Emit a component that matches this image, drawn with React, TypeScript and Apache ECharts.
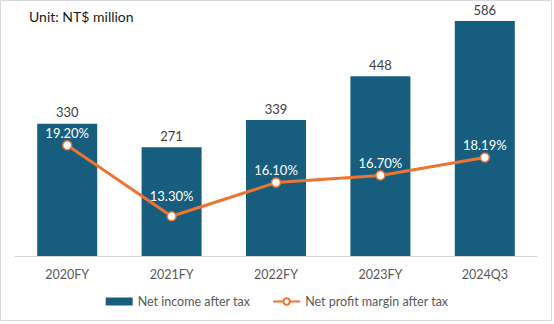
import React, { useEffect, useRef } from "react";
import * as echarts from "echarts";

const categories = ["2020FY", "2021FY", "2022FY", "2023FY", "2024Q3"];
const netIncome = [330, 271, 339, 448, 586];
const margin = [19.2, 13.3, 16.1, 16.7, 18.19];
const marginLabels = ["19.20%", "13.30%", "16.10%", "16.70%", "18.19%"];

const FONT = "Lato, 'Open Sans', sans-serif";

export default function App() {
  const ref = useRef<HTMLDivElement>(null);
  useEffect(() => {
    document.body.style.margin = "0";
    const chart = echarts.init(ref.current!, undefined, { renderer: "svg" });
    const marginData = margin.map((v, i) =>
      i === 1 ? { value: v, label: { distance: 9 } } : { value: v }
    );
    chart.setOption({
      animation: false,
      backgroundColor: "#ffffff",
      textStyle: { fontFamily: FONT },
      graphic: [
        {
          type: "rect",
          shape: { x: 0.5, y: 0.5, width: 551, height: 320 },
          style: { fill: "none", stroke: "#d9d9d9", lineWidth: 1 },
          silent: true,
        },
        {
          type: "text",
          left: 29,
          top: 9,
          style: {
            text: "Unit: NT$ million",
            fontSize: 14,
            fontFamily: FONT,
            fill: "#1a1a1a",
          },
        },
      ],
      grid: { left: 15, right: 17, top: 15.4, bottom: 68 },
      legend: {
        bottom: 11,
        left: "center",
        itemGap: 22,
        itemWidth: 27,
        itemHeight: 8,
        textStyle: { color: "#595959", fontSize: 12.5, fontFamily: FONT },
        data: [
          { name: "Net income after tax", icon: "rect" },
          { name: "Net profit margin after tax" },
        ],
      },
      xAxis: {
        type: "category",
        data: categories,
        axisLine: { lineStyle: { color: "#d9d9d9", width: 1 } },
        axisTick: { show: false },
        axisLabel: { color: "#595959", fontSize: 12.5, margin: 12, fontFamily: FONT },
      },
      yAxis: [
        { type: "value", min: 0, max: 600, show: false, splitLine: { show: false } },
        { type: "value", min: 10, max: 30, show: false, splitLine: { show: false } },
      ],
      series: [
        {
          name: "Net income after tax",
          type: "bar",
          data: netIncome,
          barWidth: 60,
          itemStyle: { color: "#175e7e" },
          label: {
            show: true,
            position: "top",
            distance: 5,
            color: "#404040",
            fontSize: 13,
            fontFamily: FONT,
          },
        },
        {
          name: "Net profit margin after tax",
          type: "line",
          yAxisIndex: 1,
          data: marginData,
          symbol: "circle",
          symbolSize: 9,
          lineStyle: { color: "#ed7431", width: 3 },
          itemStyle: { color: "#ffffff", borderColor: "#ed7431", borderWidth: 1.5 },
          label: {
            show: true,
            position: "top",
            distance: 1,
            color: "#ffffff",
            fontSize: 13,
            fontFamily: FONT,
            formatter: (p: any) => marginLabels[p.dataIndex],
          },
          z: 5,
        },
      ],
    });
    return () => chart.dispose();
  }, []);
  return <div ref={ref} style={{ width: 554, height: 324 }} />;
}
